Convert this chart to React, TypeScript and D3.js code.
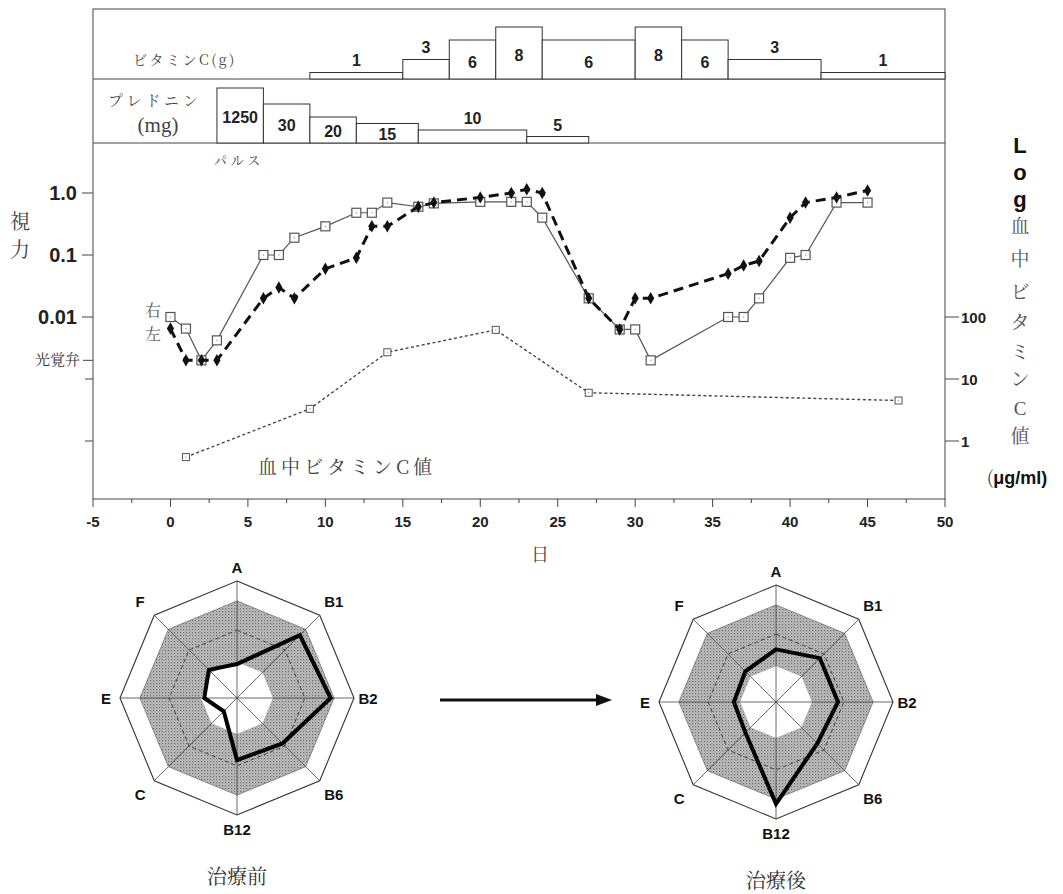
import React from "react";
import * as d3 from "d3";

// ---------- data ----------
const vitCStart = [9, 15, 18, 21, 24, 30, 33, 36, 42];
const vitCEnd = [15, 18, 21, 24, 30, 33, 36, 42, 50];
const vitCDose = [1, 3, 6, 8, 6, 8, 6, 3, 1];

const predStart = [3, 6, 9, 12, 16, 23];
const predEnd = [6, 9, 12, 16, 23, 27];
const predDose = [1250, 30, 20, 15, 10, 5];

const eyeDays = [0, 1, 2, 3, 6, 7, 8, 10, 12, 13, 14, 16, 17, 20, 22, 23, 24, 27, 29, 30, 31, 36, 37, 38, 40, 41, 43, 45];
const visionRight = [0.01, 0.0065, 0.002, 0.0042, 0.1, 0.1, 0.19, 0.29, 0.48, 0.48, 0.7, 0.6, 0.68, 0.72, 0.72, 0.72, 0.4, 0.02, 0.0063, 0.0063, 0.002, 0.01, 0.01, 0.02, 0.09, 0.1, 0.7, 0.7];
const visionLeft = [0.0065, 0.002, 0.002, 0.002, 0.02, 0.03, 0.02, 0.06, 0.09, 0.29, 0.29, 0.6, 0.7, 0.85, 1.0, 1.15, 1.0, 0.02, 0.0063, 0.02, 0.02, 0.05, 0.068, 0.08, 0.4, 0.7, 0.85, 1.1];

const bloodDays = [1, 9, 14, 21, 27, 47];
const bloodVitC = [0.55, 3.3, 27, 62, 6, 4.5];

const xTicks = [-5, 0, 5, 10, 15, 20, 25, 30, 35, 40, 45, 50];
const leftTickVals = [1, 0.1, 0.01];
const leftTickLabels = ["1.0", "0.1", "0.01"];
const lightPerception = 0.002; // 光覚弁
const leftExtraTicks = [0.001, 0.0001];
const rightTickVals = [100, 10, 1];

const nutrients = ["A", "B1", "B2", "B6", "B12", "C", "E", "F"];
const beforeVals = [0.29, 0.76, 0.8, 0.55, 0.53, 0.16, 0.28, 0.34];
const afterVals = [0.45, 0.53, 0.53, 0.5, 0.87, 0.37, 0.36, 0.37];
const bandOuter = 0.83;
const bandInner = 0.31;
const dashedRing = 0.58;

// ---------- layout ----------
const W = 1063, H = 894;
const L = 93, R = 945;
const topY = 9, vitBase = 79, predBase = 143, xAxisY = 499;

const JP = "'Noto Serif CJK JP','Noto Sans CJK JP',serif";
const SANS = "'Liberation Sans',Arial,sans-serif";

const x = d3.scaleLinear().domain([-5, 50]).range([L, R]);
const yL = d3.scaleLog().domain([0.0001, 1]).range([441, 193]);
const yR = d3.scaleLog().domain([1, 10000]).range([441, 193]);
const hVit = d3.scaleLinear().domain([0, 8]).range([0, 52]);
const hPred = d3.scaleLinear().domain([0, 30, 1250]).range([0, 39, 55]);

function Radar({ cx, cy, values, title }: { cx: number; cy: number; values: number[]; title: string }) {
  const r = d3.scaleLinear().domain([0, 1]).range([0, 117]);
  const n = nutrients.length;
  const ang = (i: number) => (i * 2 * Math.PI) / n;
  const ring = (v: number) =>
    d3.lineRadial<number>().angle((_, i) => ang(i)).radius(() => r(v)).curve(d3.curveLinearClosed)(nutrients.map(() => v)) as string;
  const poly = d3
    .lineRadial<number>()
    .angle((_, i) => ang(i))
    .radius((d) => r(d))
    .curve(d3.curveLinearClosed)(values) as string;
  return (
    <g transform={`translate(${cx},${cy})`}>
      <path d={ring(1)} fill="#fff" stroke="#333" strokeWidth={1.1} />
      <path d={ring(bandOuter)} fill="url(#tone)" stroke="#666" strokeWidth={0.7} />
      <path d={ring(bandInner)} fill="#fff" stroke="#999" strokeWidth={0.5} />
      <path d={ring(dashedRing)} fill="none" stroke="#333" strokeWidth={0.9} strokeDasharray="4,3" />
      {nutrients.map((_, i) => {
        const a = ang(i) - Math.PI / 2;
        return (
          <line key={i} x1={0} y1={0} x2={Math.cos(a) * r(1)} y2={Math.sin(a) * r(1)} stroke="#444" strokeWidth={0.8} />
        );
      })}
      <path d={poly} fill="none" stroke="#000" strokeWidth={4} strokeLinejoin="miter" />
      {nutrients.map((nm, i) => {
        const a = ang(i) - Math.PI / 2;
        const lr = i % 2 === 0 ? 131 : 137;
        return (
          <text key={nm} x={Math.cos(a) * lr} y={Math.sin(a) * lr + 5.5} textAnchor="middle"
            fontFamily={SANS} fontWeight="bold" fontSize={15} fill="#111">{nm}</text>
        );
      })}
      <text x={0} y={186} textAnchor="middle" fontFamily={JP} fontSize={20} fill="#333">{title}</text>
    </g>
  );
}

export default function App() {
  const sq = (cx: number, cy: number, s: number, k: string, sw = 1) => (
    <g key={k}>
      <rect x={cx - s / 2} y={cy - s / 2} width={s} height={s} fill="#fff" stroke="#555" strokeWidth={sw} />
      <rect x={cx - 0.6} y={cy - 0.6} width={1.2} height={1.2} fill="#999" />
    </g>
  );
  const lineR = d3.line<number>().x((_, i) => x(eyeDays[i])).y((d) => yL(d))(visionRight) as string;
  const lineL = d3.line<number>().x((_, i) => x(eyeDays[i])).y((d) => yL(d))(visionLeft) as string;
  const lineB = d3.line<number>().x((_, i) => x(bloodDays[i])).y((d) => yR(d))(bloodVitC) as string;
  const diamond = d3.symbol().type(d3.symbolDiamond).size(45)() as string;

  const minorTicks = d3.range(-5, 50.01, 2.5);
  const rightTitle1 = ["L", "o", "g"];
  const rightTitle2 = ["血", "中", "ビ", "タ", "ミ", "ン", "C", "値"];
  const rt2y = [226, 259, 292, 322, 352, 379, 408, 436];

  return (
    <svg width={W} height={H} style={{ position: "absolute", left: 0, top: 0, background: "#fff" }}>
      <defs>
        <pattern id="tone" width={3} height={3} patternUnits="userSpaceOnUse">
          <rect width={3} height={3} fill="#c0c0c0" />
          <rect x={0} y={0} width={1.2} height={1.2} fill="#666" />
          <rect x={1.5} y={1.5} width={1} height={1} fill="#888" />
        </pattern>
      </defs>

      {/* top panels frame */}
      <rect x={L} y={topY} width={R - L} height={xAxisY - topY} fill="none" stroke="#444" strokeWidth={1} />
      <line x1={L} x2={R} y1={vitBase} y2={vitBase} stroke="#444" />
      <line x1={L} x2={R} y1={predBase} y2={predBase} stroke="#444" />

      {/* vitamin C dose bars */}
      {vitCDose.map((d, i) => {
        const x0 = x(vitCStart[i]), x1 = x(vitCEnd[i]);
        const h = hVit(d);
        const top = vitBase - h;
        const ly = h < 25 ? top - 13 : top + h / 2 + 2;
        return (
          <g key={"v" + i}>
            <rect x={x0} y={top} width={x1 - x0} height={h} fill="#fff" stroke="#333" strokeWidth={1} />
            <text x={(x0 + x1) / 2} y={ly + 6} textAnchor="middle" fontFamily={SANS} fontWeight="bold" fontSize={16} fill="#222">{d}</text>
          </g>
        );
      })}
      <text x={185} y={65} textAnchor="middle" fontFamily={JP} fontSize={14} fill="#444" letterSpacing={2.5}>ビタミンC(g)</text>

      {/* prednisolone bars */}
      {predDose.map((d, i) => {
        const x0 = x(predStart[i]), x1 = x(predEnd[i]);
        const h = hPred(d);
        const top = predBase - h;
        const ly = h < 15 ? top - 12 : top + h / 2 + 1;
        return (
          <g key={"p" + i}>
            <rect x={x0} y={top} width={x1 - x0} height={h} fill="#fff" stroke="#333" strokeWidth={1} />
            <text x={(x0 + x1) / 2} y={ly + 6} textAnchor="middle" fontFamily={SANS} fontWeight="bold" fontSize={16} fill="#222">{d}</text>
          </g>
        );
      })}
      <text x={155} y={106} textAnchor="middle" fontFamily={JP} fontSize={15} fill="#444" letterSpacing={4}>プレドニン</text>
      <text x={158} y={132} textAnchor="middle" fontFamily="'Liberation Serif',serif" fontSize={21} fill="#444">(mg)</text>
      <text x={239} y={165} textAnchor="middle" fontFamily={JP} fontSize={13} fill="#444" letterSpacing={4}>パルス</text>

      {/* x axis */}
      {minorTicks.map((t) => (
        <line key={"xt" + t} x1={x(t)} x2={x(t)} y1={xAxisY} y2={xAxisY + (t % 5 === 0 ? 8 : 4)} stroke="#444" />
      ))}
      {xTicks.map((t) => (
        <text key={"xl" + t} x={x(t)} y={527} textAnchor="middle" fontFamily={SANS} fontWeight="bold" fontSize={15} fill="#222">{t}</text>
      ))}
      <text x={540} y={561} textAnchor="middle" fontFamily={JP} fontSize={18} fill="#444">日</text>

      {/* left axis */}
      {leftTickVals.map((v, i) => (
        <g key={"lt" + v}>
          <line x1={L - 11} x2={L} y1={yL(v)} y2={yL(v)} stroke="#444" />
          <text x={77} y={yL(v) + 7} textAnchor="end" fontFamily={SANS} fontWeight="bold" fontSize={20} fill="#222">{leftTickLabels[i]}</text>
        </g>
      ))}
      <line x1={L - 10} x2={L} y1={yL(lightPerception)} y2={yL(lightPerception)} stroke="#444" />
      <text x={80} y={yL(lightPerception) + 5} textAnchor="end" fontFamily={JP} fontSize={15} fill="#333">光覚弁</text>
      {leftExtraTicks.map((v) => (
        <line key={"le" + v} x1={L - 8} x2={L} y1={yL(v)} y2={yL(v)} stroke="#444" />
      ))}
      <text x={20} y={229} textAnchor="middle" fontFamily={JP} fontSize={20} fill="#444">視</text>
      <text x={20} y={257} textAnchor="middle" fontFamily={JP} fontSize={20} fill="#444">力</text>
      <text x={153} y={316} textAnchor="middle" fontFamily={JP} fontSize={16} fill="#555">右</text>
      <text x={153} y={340} textAnchor="middle" fontFamily={JP} fontSize={16} fill="#555">左</text>

      {/* right axis */}
      {rightTickVals.map((v) => (
        <g key={"rt" + v}>
          <line x1={R} x2={R + 14} y1={yR(v)} y2={yR(v)} stroke="#444" />
          <text x={961} y={yR(v) + 5.5} fontFamily={SANS} fontWeight="bold" fontSize={15} fill="#222">{v}</text>
        </g>
      ))}
      {rightTitle1.map((c, i) => (
        <text key={"r1" + i} x={1020} y={153 + i * 27} textAnchor="middle" fontFamily={SANS} fontWeight="bold" fontSize={22} fill="#111">{c}</text>
      ))}
      {rightTitle2.map((c, i) => (
        <text key={"r2" + i} x={1020} y={rt2y[i] + 7} textAnchor="middle" fontFamily={c === "C" ? "'Liberation Serif',serif" : JP} fontSize={19} fill="#555">{c}</text>
      ))}
      <text x={1017} y={484} textAnchor="middle" fill="#111">
        <tspan fontFamily={JP} fontSize={18} fill="#444">(</tspan>
        <tspan fontFamily={SANS} fontWeight="bold" fontSize={18}>μg/ml)</tspan>
      </text>

      {/* blood vitamin C */}
      <path d={lineB} fill="none" stroke="#444" strokeWidth={1.4} strokeDasharray="3,2.5" />
      {bloodVitC.map((v, i) => sq(x(bloodDays[i]), yR(v), 7, "b" + i, 1))}
      <text x={347} y={474} textAnchor="middle" fontFamily={JP} fontSize={19} fill="#444" letterSpacing={4}>血中ビタミンC値</text>

      {/* right eye */}
      <path d={lineR} fill="none" stroke="#555" strokeWidth={1.2} />
      {visionRight.map((v, i) => sq(x(eyeDays[i]), yL(v), 9, "r" + i, 1.2))}

      {/* left eye */}
      <path d={lineL} fill="none" stroke="#111" strokeWidth={3} strokeDasharray="10,6" />
      {visionLeft.map((v, i) => (
        <path key={"l" + i} d={diamond} transform={`translate(${x(eyeDays[i])},${yL(v)})`} fill="#111" />
      ))}

      {/* radar charts */}
      <Radar cx={237} cy={698} values={beforeVals} title="治療前" />
      <Radar cx={776} cy={702} values={afterVals} title="治療後" />

      {/* arrow */}
      <line x1={440} x2={598} y1={700} y2={700} stroke="#111" strokeWidth={3} />
      <path d="M596,694 L612,700 L596,706 Z" fill="#111" />
    </svg>
  );
}
